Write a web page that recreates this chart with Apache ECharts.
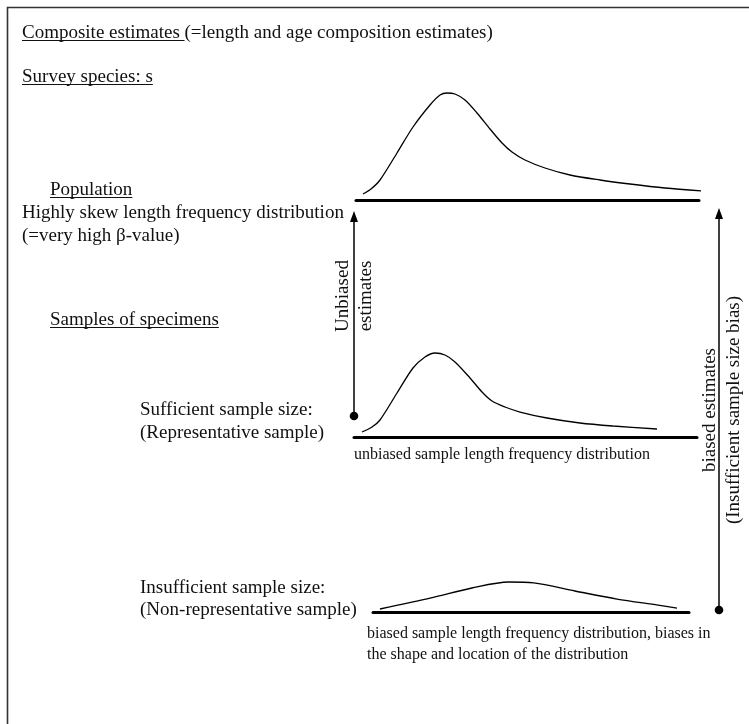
<!DOCTYPE html>
<html><head><meta charset="utf-8">
<script src="https://cdn.jsdelivr.net/npm/echarts@6/dist/echarts.min.js"></script>
<style>html,body{margin:0;padding:0;background:#fff}#c{width:749px;height:724px}</style>
</head><body><div id="c"></div>
<script>
// ---- Data (length on 0..100 scale, relative frequency 0..100) ----
const popLength = [2.04, 4.37, 7.0, 11.95, 16.62, 21.57, 24.49, 26.53, 28.86, 31.78, 35.28, 39.07, 42.57, 45.48, 49.27, 55.1, 62.39, 71.14, 79.88, 90.09, 100.87];
const popFreq   = [5.0, 9.17, 16.67, 39.17, 60.83, 79.17, 87.5, 89.17, 88.33, 83.33, 72.5, 59.17, 47.5, 40.0, 33.33, 26.67, 20.83, 16.67, 13.33, 10.0, 7.5];
const sufLength = [2.33, 5.25, 7.58, 12.54, 17.2, 20.7, 23.62, 26.53, 29.45, 33.82, 37.32, 40.23, 44.02, 48.4, 56.27, 65.89, 75.51, 88.34];
const sufFreq   = [4.17, 8.33, 14.17, 36.67, 57.5, 66.67, 70.0, 68.33, 62.5, 49.17, 37.5, 30.0, 25.0, 20.83, 15.83, 11.67, 9.17, 6.67];
const insLength = [2.2, 18.4, 31.3, 43.0, 50.9, 63.9, 77.2, 90.2, 96.2];
const insFreq   = [2.5, 11.7, 20.0, 25.0, 24.2, 17.5, 10.8, 5.8, 3.3];

const titleUnderlined = 'Composite estimates ';
const titleRest = '(=length and age composition estimates)';
const surveyText = 'Survey species: s';
const popHeading = 'Population';
const popLines = ['Highly skew length frequency distribution', '(=very high \u03B2-value)'];
const samplesHeading = 'Samples of specimens';
const sufLines = ['Sufficient sample size:', '(Representative sample)'];
const sufCaption = 'unbiased sample length frequency distribution';
const insLines = ['Insufficient sample size:', '(Non-representative sample)'];
const insCaption = ['biased sample length frequency distribution, biases in', 'the shape and location of the distribution'];
const leftArrowText = ['Unbiased', 'estimates'];
const rightArrowText = ['biased estimates', '(Insufficient sample size bias)'];

// ---- Rendering ----
const SERIF = '"Liberation Serif","Times New Roman",serif';
const chart = echarts.init(document.getElementById('c'), null, {renderer: 'canvas'});
const mctx = document.createElement('canvas').getContext('2d');
function tw(t, size) { mctx.font = size + 'px ' + SERIF; return mctx.measureText(t).width; }
function pairs(xs, ys) { return xs.map((x, i) => [x, ys[i]]); }

const els = [];
function txt(t, x, y, size) {
  els.push({type: 'text', x: x, y: y, silent: true,
    style: {text: t, x: 0, y: 0, font: size + 'px ' + SERIF, fill: '#111',
      align: 'left', verticalAlign: 'middle', textAlign: 'left', textVerticalAlign: 'middle'}});
}
function uline(t, x, y, size) {
  const w = tw(t, size);
  const yy = y + size * 0.3 + 1.8;
  els.push({type: 'line', silent: true, shape: {x1: x, y1: yy, x2: x + w, y2: yy}, style: {stroke: '#111', lineWidth: 1.2}});
}
function rtxt(lines, cx, cy, size, lh) {
  els.push({type: 'text', x: cx, y: cy, rotation: Math.PI / 2, silent: true,
    style: {text: lines.join('\n'), x: 0, y: 0, font: size + 'px ' + SERIF, fill: '#111', lineHeight: lh,
      align: 'center', verticalAlign: 'middle', textAlign: 'center', textVerticalAlign: 'middle'}});
}
function arrow(x, yTip, yDot) {
  els.push({type: 'line', silent: true, shape: {x1: x, y1: yDot, x2: x, y2: yTip + 8}, style: {stroke: '#000', lineWidth: 1.5}});
  els.push({type: 'polygon', silent: true, shape: {points: [[x, yTip], [x - 4, yTip + 11], [x + 4, yTip + 11]]}, style: {fill: '#000'}});
  els.push({type: 'circle', silent: true, shape: {cx: x, cy: yDot, r: 4.3}, style: {fill: '#000'}});
}

// frame (top and left edges visible)
els.push({type: 'polyline', silent: true, shape: {points: [[7.5, 730], [7.5, 7.5], [760, 7.5]]}, style: {stroke: '#333', lineWidth: 1.6, fill: null}});

const S = 19, s = 16;
txt(titleUnderlined + titleRest, 22, 33, S); uline(titleUnderlined, 22, 33, S);
txt(surveyText, 22, 77, S); uline(surveyText, 22, 77, S);
txt(popHeading, 50, 190, S); uline(popHeading, 50, 190, S);
txt(popLines[0], 22, 213, S);
txt(popLines[1], 22, 236, S);
txt(samplesHeading, 50, 320, S); uline(samplesHeading, 50, 320, S);
txt(sufLines[0], 140, 410, S);
txt(sufLines[1], 140, 433, S);
txt(sufCaption, 354, 455, s);
txt(insLines[0], 140, 588, S);
txt(insLines[1], 140, 610, S);
txt(insCaption[0], 367, 634, s);
txt(insCaption[1], 367, 655, s);
rtxt(leftArrowText, 355, 296, S, 23);
rtxt(rightArrowText, 722, 410, S, 24);
arrow(354, 211, 416);
arrow(719, 208, 610);

const grids = [
  {left: 356, top: 80, width: 343, height: 120},
  {left: 354, top: 317, width: 343, height: 120},
  {left: 373, top: 492, width: 316, height: 120}
];
const xAxes = grids.map((g, i) => ({type: 'value', gridIndex: i, min: 0, max: 100,
  axisLine: {show: true, onZero: false, lineStyle: {color: '#000', width: 3}},
  axisTick: {show: false}, axisLabel: {show: false}, splitLine: {show: false}}));
const yAxes = grids.map((g, i) => ({type: 'value', gridIndex: i, min: 0, max: 100, show: false}));
const curves = [pairs(popLength, popFreq), pairs(sufLength, sufFreq), pairs(insLength, insFreq)];
const series = curves.map((d, i) => ({type: 'line', xAxisIndex: i, yAxisIndex: i, data: d,
  smooth: 0.3, showSymbol: false, clip: false, silent: true, animation: false,
  lineStyle: {color: '#000', width: 1.3}}));

chart.setOption({
  backgroundColor: '#fff',
  animation: false,
  grid: grids,
  xAxis: xAxes,
  yAxis: yAxes,
  series: series,
  graphic: {elements: els}
});
</script></body></html>
